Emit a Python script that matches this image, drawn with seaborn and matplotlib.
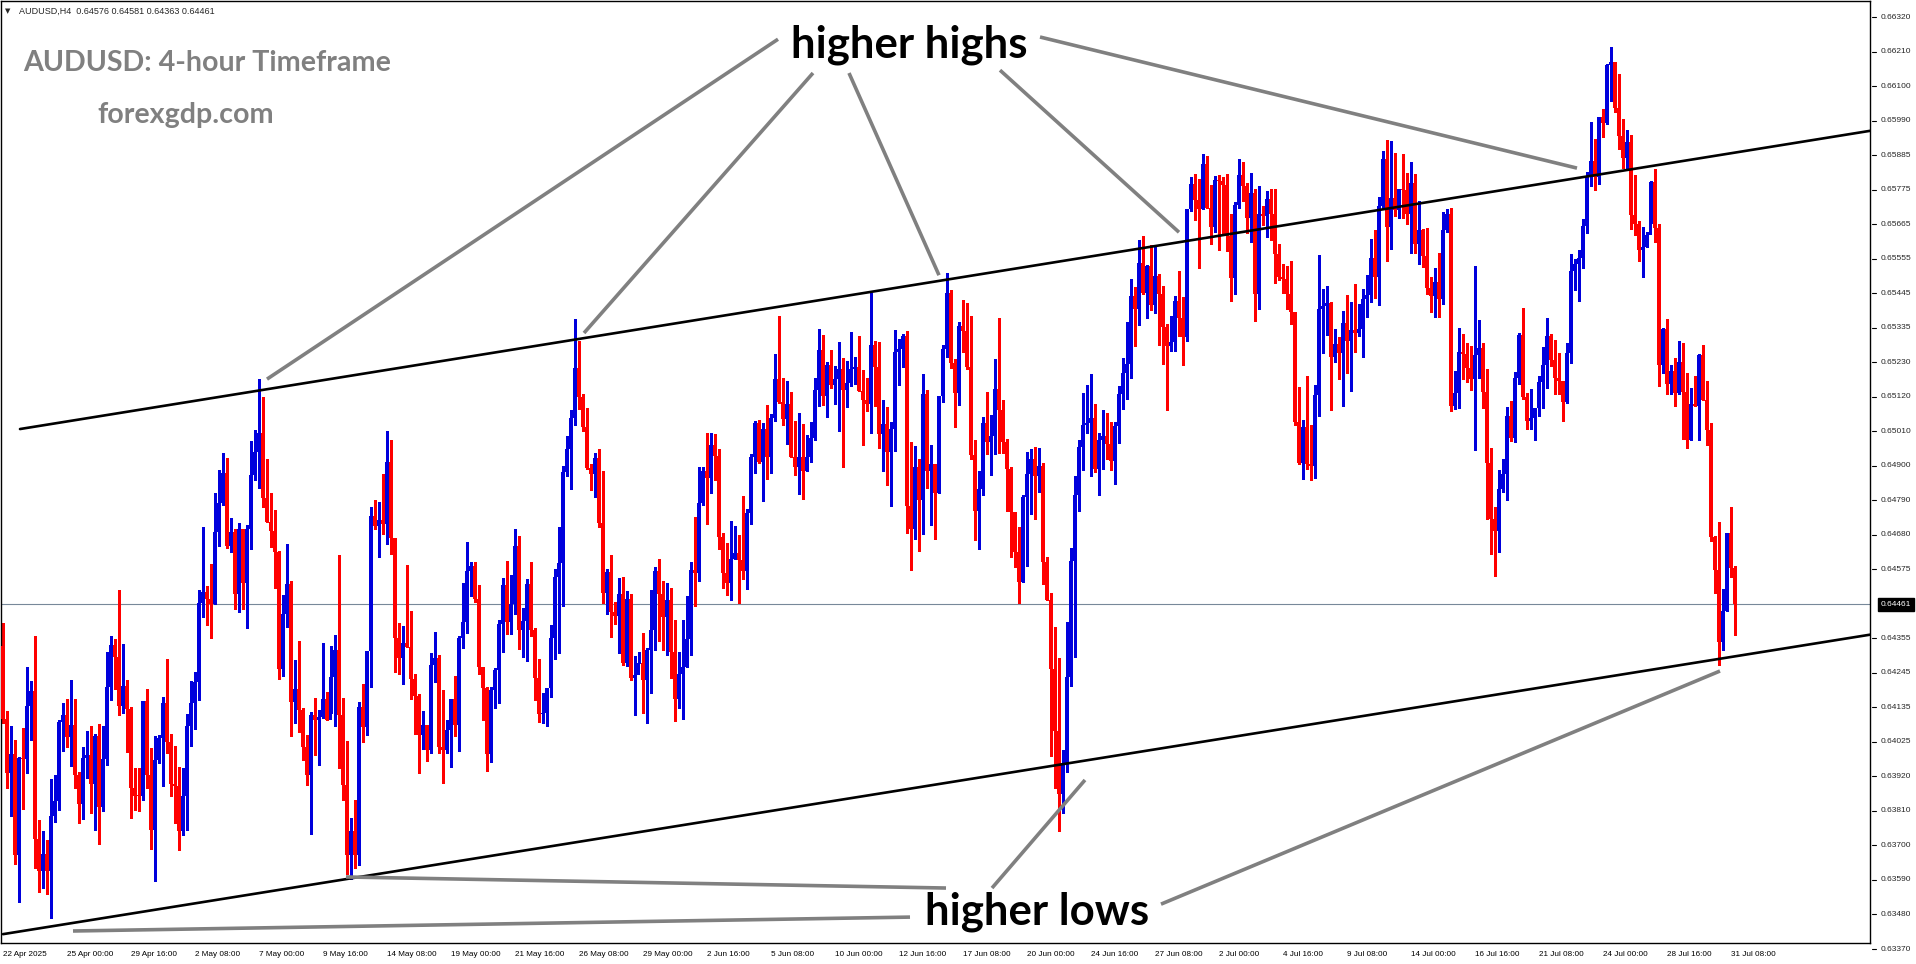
import numpy as np
import pandas as pd
import matplotlib
matplotlib.use("Agg")
import matplotlib.pyplot as plt
import matplotlib.transforms as mtransforms
import seaborn as sns

# AUDUSD H4 candles, prices in points (1 point = 0.00001)
first_open = 64329
close_pts = [
    64099, 63926, 63988, 63669, 63976, 63970, 64140, 64188, 63718, 63617,
    63672, 63617, 63790, 63839, 64089, 64111, 64042, 64079, 63920, 63830,
    63976, 63984, 63891, 64045, 63818, 63972, 64198, 64333, 64295, 64139,
    64202, 64129, 63879, 63855, 63853, 64156, 63920, 63748, 63968, 64039,
    64150, 64024, 63891, 63885, 63745, 63853, 64077, 64148, 64214, 64465,
    64499, 64478, 64462, 64690, 64783, 64877, 64646, 64690, 64493, 64701,
    64529, 64699, 64871, 64944, 65002, 64798, 64723, 64693, 64626, 64257,
    64429, 64526, 64152, 64193, 64126, 64011, 63922, 64112, 64096, 64106,
    64160, 64094, 64231, 64318, 64112, 63890, 63666, 63742, 63666, 64136,
    64074, 64314, 64741, 64709, 64729, 64714, 64913, 64672, 64354, 64291,
    64339, 64326, 64224, 64172, 64049, 64079, 63999, 64269, 64291, 64011,
    64000, 64063, 64160, 64079, 64354, 64405, 64566, 64582, 64478, 64263,
    64197, 63987, 64190, 64253, 64398, 64522, 64406, 64462, 64645, 64379,
    64408, 64525, 64379, 64228, 64113, 64118, 64195, 64356, 64548, 64593,
    64880, 64952, 65051, 65210, 65118, 65023, 64894, 64873, 64925, 64719,
    64497, 64564, 64437, 64425, 64495, 64276, 64479, 64229, 64237, 64274,
    64221, 64316, 64379, 64566, 64493, 64421, 64474, 64311, 64161, 64240,
    64263, 64351, 64569, 64559, 64782, 64884, 64861, 64965, 64930, 64673,
    64561, 64529, 64604, 64625, 64600, 64566, 64750, 64926, 65035, 64913,
    65016, 64928, 65051, 65173, 65103, 65048, 65095, 64926, 64897, 64926,
    64884, 64926, 64988, 65141, 65266, 65122, 65220, 65155, 65173, 65207,
    65141, 65161, 65206, 65213, 65135, 65107, 65095, 65282, 65213, 65001,
    65032, 64944, 65016, 65260, 65270, 65311, 64773, 64700, 64897, 64792,
    65128, 64884, 64904, 64813, 65120, 65270, 65448, 65226, 65130, 65342,
    65326, 65211, 64934, 64757, 64826, 65036, 64976, 64995, 65143, 65077,
    64976, 64889, 64752, 64628, 64533, 64800, 64874, 64921, 64868, 64900,
    64594, 64476, 64257, 64060, 63860, 63960, 64230, 64597, 64806, 64959,
    65029, 65036, 65051, 64891, 64981, 64993, 64970, 64916, 65027, 65126,
    65194, 65222, 65437, 65397, 65541, 65447, 65532, 65409, 65501, 65442,
    65338, 65279, 65290, 65420, 65369, 65307, 65711, 65792, 65742, 65711,
    65855, 65716, 65656, 65803, 65800, 65790, 65626, 65495, 65725, 65820,
    65785, 65685, 65764, 65445, 65696, 65690, 65744, 65696, 65570, 65498,
    65490, 65443, 65387, 65037, 64907, 65023, 64905, 64899, 65123, 65395,
    65405, 65415, 65245, 65285, 65257, 65352, 65294, 65329, 65321, 65334,
    65427, 65440, 65558, 65498, 65721, 65870, 65656, 65746, 65709, 65777,
    65772, 65698, 65796, 65603, 65646, 65564, 65463, 65438, 65480, 65429,
    65646, 65698, 65088, 65129, 65260, 65255, 65210, 65174, 65250, 65274,
    65134, 64907, 64730, 64694, 64827, 64874, 65058, 64987, 65177, 65313,
    65117, 65043, 65051, 65084, 65164, 65220, 65311, 65233, 65176, 65167,
    65103, 65257, 65517, 65540, 65557, 65660, 65817, 65866, 65813, 66003,
    65986, 66168, 66179, 66033, 65943, 65875, 65926, 65693, 65666, 65582,
    65593, 65630, 65797, 65653, 65220, 65333, 65160, 65200, 65131, 65229,
    65133, 64980, 65096, 65090, 65249, 65107, 65014, 64674, 64570, 64341,
    64441, 64687, 64576, 64461,
]
high_pts = [
    64402, 64123, 64075, 64033, 63978, 64069, 64263, 64219, 64362, 63778,
    63744, 63714, 63909, 63920, 64095, 64148, 64162, 64223, 64162, 63930,
    64008, 64060, 64075, 64051, 64081, 64077, 64311, 64362, 64350, 64507,
    64335, 64220, 64135, 63944, 63942, 64156, 64194, 64005, 64045, 64047,
    64168, 64287, 64051, 64014, 63947, 63942, 64115, 64217, 64248, 64507,
    64705, 64519, 64590, 64814, 64886, 64941, 64925, 64735, 64701, 64717,
    64701, 64713, 64978, 65014, 65175, 65117, 64920, 64812, 64760, 64630,
    64491, 64653, 64536, 64285, 64346, 64132, 64048, 64120, 64166, 64128,
    64339, 64184, 64330, 64364, 64617, 64163, 64027, 63785, 63842, 64152,
    64209, 64314, 64768, 64792, 64786, 64875, 65010, 64981, 64672, 64402,
    64394, 64587, 64441, 64241, 64178, 64124, 64079, 64306, 64375, 64300,
    64190, 64094, 64160, 64233, 64360, 64530, 64657, 64596, 64594, 64521,
    64263, 64200, 64199, 64258, 64411, 64543, 64598, 64553, 64699, 64678,
    64450, 64540, 64596, 64387, 64287, 64179, 64195, 64395, 64572, 64706,
    64898, 64993, 65076, 65364, 65295, 65126, 65083, 64904, 64941, 64954,
    64884, 64574, 64617, 64469, 64543, 64548, 64504, 64495, 64297, 64311,
    64369, 64324, 64506, 64578, 64606, 64534, 64530, 64514, 64411, 64309,
    64411, 64487, 64596, 64738, 64896, 64896, 65004, 65002, 65000, 64952,
    64687, 64654, 64724, 64708, 64680, 64804, 64763, 64938, 65041, 65045,
    65036, 65092, 65063, 65254, 65374, 65178, 65167, 65132, 65041, 65066,
    65032, 64997, 65038, 65178, 65332, 65314, 65229, 65266, 65216, 65291,
    65242, 65232, 65322, 65245, 65311, 65203, 65178, 65448, 65295, 65291,
    65107, 65086, 65038, 65329, 65301, 65316, 65326, 64976, 64963, 64922,
    65191, 65138, 64966, 64904, 65120, 65282, 65510, 65455, 65238, 65354,
    65426, 65414, 65374, 64982, 64882, 65055, 65134, 65061, 65239, 65366,
    65108, 64984, 64897, 64752, 64707, 64808, 64944, 64953, 64959, 64957,
    64910, 64611, 64497, 64388, 64291, 64000, 64405, 64639, 64868, 64981,
    65131, 65154, 65190, 65094, 65004, 65075, 65066, 65038, 65038, 65151,
    65241, 65354, 65490, 65467, 65614, 65626, 65535, 65598, 65592, 65507,
    65470, 65349, 65374, 65437, 65516, 65434, 65713, 65815, 65824, 65807,
    65886, 65880, 65790, 65818, 65821, 65815, 65824, 65698, 65735, 65870,
    65860, 65795, 65825, 65777, 65785, 65721, 65769, 65775, 65775, 65603,
    65540, 65532, 65547, 65387, 65148, 65044, 65183, 65028, 65155, 65566,
    65459, 65468, 65419, 65332, 65308, 65389, 65440, 65417, 65474, 65413,
    65459, 65503, 65617, 65646, 65751, 65896, 65930, 65927, 65891, 65777,
    65886, 65828, 65860, 65822, 65737, 65649, 65653, 65498, 65526, 65572,
    65704, 65711, 65717, 65199, 65336, 65316, 65289, 65278, 65533, 65361,
    65289, 65207, 64956, 64770, 64887, 64920, 65087, 65104, 65196, 65320,
    65400, 65131, 65144, 65084, 65183, 65277, 65369, 65317, 65297, 65257,
    65167, 65287, 65570, 65553, 65582, 65680, 65830, 65989, 65933, 66003,
    66029, 66172, 66226, 66179, 66139, 65999, 65963, 65946, 65819, 65673,
    65656, 65640, 65800, 65839, 65664, 65336, 65363, 65220, 65240, 65296,
    65287, 65193, 65147, 65184, 65253, 65283, 65169, 65034, 64677, 64721,
    64510, 64687, 64770, 64581,
]
low_pts = [
    64085, 63879, 63790, 63639, 63518, 63812, 63926, 64033, 63627, 63551,
    63563, 63545, 63469, 63772, 63811, 63996, 64008, 63948, 63881, 63768,
    63781, 63911, 63802, 63748, 63702, 63808, 63954, 64157, 64194, 64111,
    64117, 63994, 63784, 63811, 63808, 63841, 63879, 63685, 63584, 63960,
    63887, 63990, 63855, 63768, 63684, 63730, 63748, 64014, 64065, 64157,
    64420, 64396, 64353, 64462, 64646, 64777, 64638, 64626, 64447, 64438,
    64447, 64387, 64635, 64854, 64830, 64769, 64721, 64642, 64514, 64224,
    64235, 64390, 64043, 64085, 64057, 63969, 63890, 63733, 63985, 63954,
    64100, 64094, 64118, 64076, 63942, 63842, 63609, 63593, 63627, 63636,
    64025, 64048, 64200, 64699, 64612, 64685, 64653, 64620, 64247, 64241,
    64209, 64326, 64160, 64051, 63926, 64003, 63964, 63991, 64215, 63991,
    63897, 63991, 63945, 64045, 63997, 64324, 64369, 64487, 64469, 64241,
    64096, 63934, 63963, 64133, 64149, 64311, 64366, 64366, 64429, 64319,
    64293, 64282, 64361, 64158, 64089, 64086, 64077, 64168, 64287, 64308,
    64456, 64868, 64826, 65030, 65081, 65010, 64889, 64822, 64801, 64706,
    64464, 64429, 64358, 64400, 64308, 64268, 64266, 64221, 64112, 64274,
    64118, 64086, 64181, 64316, 64345, 64316, 64300, 64229, 64091, 64133,
    64097, 64263, 64302, 64455, 64535, 64775, 64715, 64812, 64854, 64636,
    64513, 64492, 64476, 64604, 64465, 64541, 64510, 64715, 64878, 64909,
    64788, 64859, 64876, 65042, 65100, 65030, 64969, 64926, 64872, 64809,
    64794, 64884, 64913, 64982, 65088, 65091, 65055, 65147, 65095, 65011,
    64897, 65086, 65151, 65160, 65135, 64967, 65072, 65004, 65088, 64957,
    64884, 64838, 64773, 64947, 65155, 65213, 64688, 64569, 64667, 64631,
    64684, 64828, 64713, 64669, 64813, 65101, 65245, 65210, 65023, 65091,
    65260, 65207, 64922, 64665, 64635, 64808, 64936, 64872, 64936, 64940,
    64940, 64755, 64611, 64578, 64465, 64533, 64582, 64746, 64730, 64817,
    64526, 64476, 63980, 63880, 63743, 63800, 63930, 64201, 64294, 64755,
    64885, 65004, 64868, 64880, 64808, 64891, 64921, 64885, 64843, 64973,
    65081, 65111, 65177, 65279, 65345, 65443, 65368, 65394, 65383, 65283,
    65222, 65077, 65264, 65264, 65309, 65219, 65296, 65705, 65677, 65527,
    65711, 65716, 65603, 65639, 65584, 65631, 65581, 65422, 65443, 65717,
    65737, 65638, 65609, 65357, 65395, 65663, 65624, 65614, 65477, 65487,
    65448, 65395, 65348, 65028, 64904, 64857, 64889, 64854, 64862, 65058,
    65257, 65313, 65076, 65229, 65174, 65088, 65194, 65136, 65260, 65311,
    65245, 65371, 65419, 65431, 65410, 65712, 65548, 65587, 65691, 65685,
    65685, 65665, 65572, 65572, 65540, 65529, 65442, 65385, 65371, 65371,
    65413, 65640, 65074, 65081, 65083, 65173, 65165, 65139, 64951, 65178,
    65083, 64730, 64621, 64551, 64627, 64818, 64790, 64978, 64974, 65160,
    65110, 65016, 65016, 64980, 65058, 65084, 65147, 65217, 65127, 65127,
    65040, 65098, 65224, 65457, 65420, 65526, 65637, 65784, 65773, 65793,
    65942, 65983, 66055, 66019, 65903, 65842, 65842, 65650, 65629, 65549,
    65496, 65593, 65669, 65609, 65153, 65193, 65127, 65127, 65090, 65127,
    64984, 64956, 64980, 65090, 64980, 65107, 64964, 64663, 64498, 64270,
    64318, 64441, 64547, 64363,
]

date_labels = [
    "22 Apr 2025", "25 Apr 00:00", "29 Apr 16:00", "2 May 08:00", "7 May 00:00",
    "9 May 16:00", "14 May 08:00", "19 May 00:00", "21 May 16:00", "26 May 08:00",
    "29 May 00:00", "2 Jun 16:00", "5 Jun 08:00", "10 Jun 00:00", "12 Jun 16:00",
    "17 Jun 08:00", "20 Jun 00:00", "24 Jun 16:00", "27 Jun 08:00", "2 Jul 00:00",
    "4 Jul 16:00", "9 Jul 08:00", "14 Jul 00:00", "16 Jul 16:00", "21 Jul 08:00",
    "24 Jul 00:00", "28 Jul 16:00", "31 Jul 08:00",
]
price_labels = [
    "0.66320", "0.66210", "0.66100", "0.65990", "0.65885", "0.65775", "0.65665",
    "0.65555", "0.65445", "0.65335", "0.65230", "0.65120", "0.65010", "0.64900",
    "0.64790", "0.64680", "0.64575", "", "0.64355", "0.64245", "0.64135",
    "0.64025", "0.63920", "0.63810", "0.63700", "0.63590", "0.63480", "0.63370",
]
current_price = 0.64461
header = "AUDUSD,H4  0.64576 0.64581 0.64363 0.64461"

# channel lines (candle index, price)
upper_x = [4.25, 466.75]
upper_y = [0.65016, 0.65960]
lower_x = [0.0, 466.75]
lower_y = [0.63417, 0.64365]

# pointer lines (label end, chart end) in (candle index, price)
highs_pointers = [
    ((193.75, 0.66250), (66.0, 0.65174)),
    ((202.5, 0.66143), (145.25, 0.65320)),
    ((211.5, 0.66143), (234.0, 0.65503)),
    ((249.25, 0.66152), (294.0, 0.65639)),
    ((259.25, 0.66257), (393.5, 0.65842)),
]
lows_pointers = [
    ((235.75, 0.63563), (85.75, 0.63598)),
    ((226.75, 0.63471), (17.5, 0.63427)),
    ((247.25, 0.63563), (270.5, 0.63905)),
    ((289.5, 0.63512), (429.25, 0.64250)),
]

df = pd.DataFrame({"close": close_pts, "high": high_pts, "low": low_pts}) / 1e5
df["open"] = df["close"].shift(1).fillna(first_open / 1e5)
df["idx"] = np.arange(len(df))
df["bull"] = df["close"] >= df["open"]

W, H = 1916, 964
sns.set_style("white")
plt.rcParams["font.family"] = ["Liberation Sans", "DejaVu Sans"]

fig = plt.figure(figsize=(W / 100, H / 100), dpi=100)
ax = fig.add_axes([1 / W, 21 / H, 1869 / W, 942 / H])
ax.set_xlim(-0.5, 466.75)
ax.set_ylim(0.63389, 0.66371)

blue, red = "#0000DC", "#FF0000"
cols = np.where(df["bull"], blue, red)
ax.vlines(df["idx"], df["low"], df["high"], colors=cols, lw=0.9, antialiased=False, zorder=2)
body_lo = np.minimum(df["open"], df["close"])
body_h = np.maximum((df["close"] - df["open"]).abs(), 0.00003)
ax.bar(df["idx"], body_h, bottom=body_lo, width=0.75, color=cols, linewidth=0,
       antialiased=False, zorder=3)

# current price line
ax.axhline(current_price, color="#778899", lw=0.8, zorder=1)

# channel
sns.lineplot(x=upper_x, y=upper_y, ax=ax, color="black", lw=1.9, zorder=4)
sns.lineplot(x=lower_x, y=lower_y, ax=ax, color="black", lw=1.9, zorder=4)

for (a, b) in highs_pointers + lows_pointers:
    ax.plot([a[0], b[0]], [a[1], b[1]], color="#808080", lw=2.6,
            solid_capstyle="butt", zorder=5)

ax.text(197, 0.66193, "higher highs", fontsize=31.5, fontweight="bold",
        family="Lato", va="baseline", ha="left", color="black", zorder=6)
ax.text(230.5, 0.63446, "higher lows", fontsize=31.5, fontweight="bold",
        family="Lato", va="baseline", ha="left", color="black", zorder=6)

# x axis
ax.set_xticks(np.arange(0, 16 * len(date_labels), 16))
ax.set_xticklabels(date_labels, fontsize=5.9, ha="left")
ax.tick_params(axis="x", direction="out", length=4, width=0.8, pad=2, colors="black")
ax.set_yticks([])

# right price scale
trans = mtransforms.blended_transform_factory(ax.transAxes, ax.transData)
ticks = np.linspace(0.66320, 0.63370, len(price_labels))
for p, lab in zip(ticks, price_labels):
    if not lab:
        continue
    ax.plot([1 + 2 / 1869, 1 + 6 / 1869], [p, p], transform=trans, color="black",
            lw=0.8, clip_on=False)
    ax.text(1 + 11 / 1869, p, lab, transform=trans, fontsize=6.0, va="center",
            ha="left", clip_on=False)
ax.text(1 + 11 / 1869, current_price, f"{current_price:.5f}", transform=trans,
        fontsize=6.0, va="center", ha="left", color="white", clip_on=False,
        bbox=dict(facecolor="black", edgecolor="black", boxstyle="square,pad=0.35"))

for s in ax.spines.values():
    s.set_visible(True)
    s.set_color("black")
    s.set_linewidth(1.0)

# header and watermark texts
fig.text(5 / W, 1 - 11 / H, "\u25bc", fontsize=5, va="center", ha="left",
         family=["DejaVu Sans"])
fig.text(19 / W, 1 - 11 / H, header, fontsize=6.5, va="center", ha="left")
fig.text(23 / W, 1 - 71 / H, "AUDUSD: 4-hour Timeframe", fontsize=20.6,
         fontweight="bold", family="Lato", color="#808080", va="baseline")
fig.text(97 / W, 1 - 123 / H, "forexgdp.com", fontsize=20.6,
         fontweight="bold", family="Lato", color="#808080", va="baseline")

fig.savefig("out.png", dpi=100)
